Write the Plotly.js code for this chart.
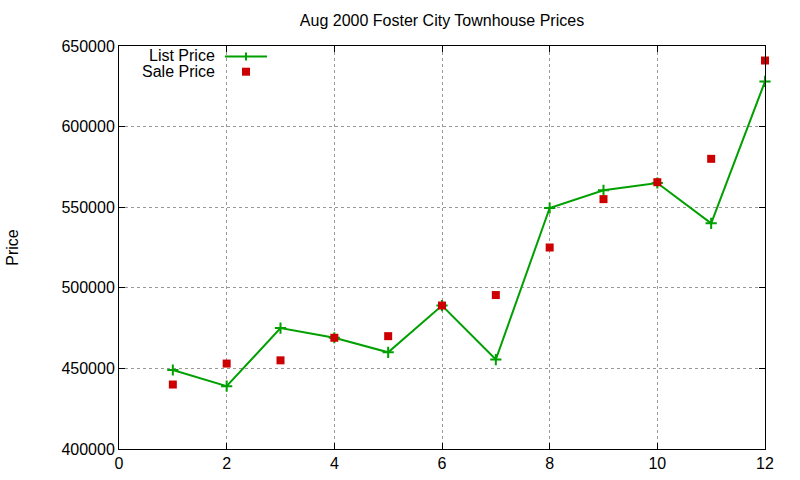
<!DOCTYPE html>
<html>
<head>
<meta charset="utf-8">
<script src="https://cdn.plot.ly/plotly-3.0.1.min.js"></script>
<style>
  html, body { margin: 0; padding: 0; background: #fff; }
  #chart { width: 800px; height: 480px; }
</style>
</head>
<body>
<div id="chart"></div>
<script>
// Aug 2000 Foster City townhouse sales
const houseIndex = [1, 2, 3, 4, 5, 6, 7, 8, 9, 10, 11, 12];
const listPrice = [449000, 439000, 475000, 469000, 460000, 489000, 455500, 549500, 560500, 565000, 540000, 628000];
const salePrice = [440000, 453000, 455000, 469000, 470000, 489000, 495500, 525000, 555000, 565500, 580000, 641000];
const xTicks = [0, 2, 4, 6, 8, 10, 12];
const yTicks = [400000, 450000, 500000, 550000, 600000, 650000];

const GREEN = "#00a000";
const RED = "#cc0000";
const FONT = "Liberation Sans, Arial, sans-serif";

// plot box in pixels, used to place the gnuplot-style key
const M = { l: 119, r: 35, t: 46, b: 31 };
const W = 800, H = 480;
const px = (x) => (x - M.l) / (W - M.l - M.r);
const py = (y) => 1 - (y - M.t) / (H - M.t - M.b);

const listTrace = {
  x: houseIndex,
  y: listPrice,
  type: "scatter",
  mode: "lines+markers",
  name: "List Price",
  cliponaxis: false,
  line: { color: GREEN, width: 2 },
  marker: { symbol: "cross-thin", size: 8, line: { color: GREEN, width: 2 } },
};

const saleTrace = {
  x: houseIndex,
  y: salePrice,
  type: "scatter",
  mode: "markers",
  name: "Sale Price",
  cliponaxis: false,
  marker: { symbol: "square", size: 8, color: RED },
};

const axisCommon = {
  showline: true,
  linecolor: "#000",
  linewidth: 1,
  mirror: "ticks",
  ticks: "inside",
  ticklen: 6,
  tickcolor: "#000",
  showgrid: true,
  gridcolor: "#999999",
  griddash: "dot",
  gridwidth: 1,
  zeroline: false,
  tickfont: { family: FONT, size: 16, color: "#000" },
};

const layout = {
  width: W,
  height: H,
  margin: M,
  paper_bgcolor: "#fff",
  plot_bgcolor: "#fff",
  showlegend: false,
  font: { family: FONT, color: "#000" },
  title: {
    text: "Aug 2000 Foster City Townhouse Prices",
    font: { family: FONT, size: 16, color: "#000" },
    x: 0.5,
    xref: "paper",
    y: 1 - 20 / H,
    yanchor: "middle",
  },
  xaxis: Object.assign({}, axisCommon, {
    range: [0, 12],
    tickvals: xTicks,
  }),
  yaxis: Object.assign({}, axisCommon, {
    range: [400000, 650000],
    tickvals: yTicks,
    tickformat: "d",
    title: { text: "Price", font: { family: FONT, size: 16, color: "#000" }, standoff: 38 },
  }),
  shapes: [
    // key background hides the grid behind it
    { type: "rect", xref: "paper", yref: "paper", layer: "between",
      x0: px(140), x1: px(272), y0: py(47), y1: py(81),
      fillcolor: "#fff", line: { width: 0 } },
    // List Price sample
    { type: "line", xref: "paper", yref: "paper",
      x0: px(225), x1: px(267), y0: py(56.5), y1: py(56.5),
      line: { color: GREEN, width: 2 } },
    { type: "line", xref: "paper", yref: "paper",
      x0: px(246), x1: px(246), y0: py(52.5), y1: py(60.5),
      line: { color: GREEN, width: 2 } },
    // Sale Price sample
    { type: "rect", xref: "paper", yref: "paper",
      x0: px(242), x1: px(250), y0: py(67.7), y1: py(75.7),
      fillcolor: RED, line: { width: 0 } },
  ],
  annotations: [
    { text: "List Price", xref: "paper", yref: "paper", x: px(217), y: py(55.5),
      xanchor: "right", yanchor: "middle", showarrow: false,
      font: { family: FONT, size: 16, color: "#000" } },
    { text: "Sale Price", xref: "paper", yref: "paper", x: px(217), y: py(71),
      xanchor: "right", yanchor: "middle", showarrow: false,
      font: { family: FONT, size: 16, color: "#000" } },
  ],
};

Plotly.newPlot("chart", [listTrace, saleTrace], layout, { staticPlot: true, displayModeBar: false });
</script>
</body>
</html>
